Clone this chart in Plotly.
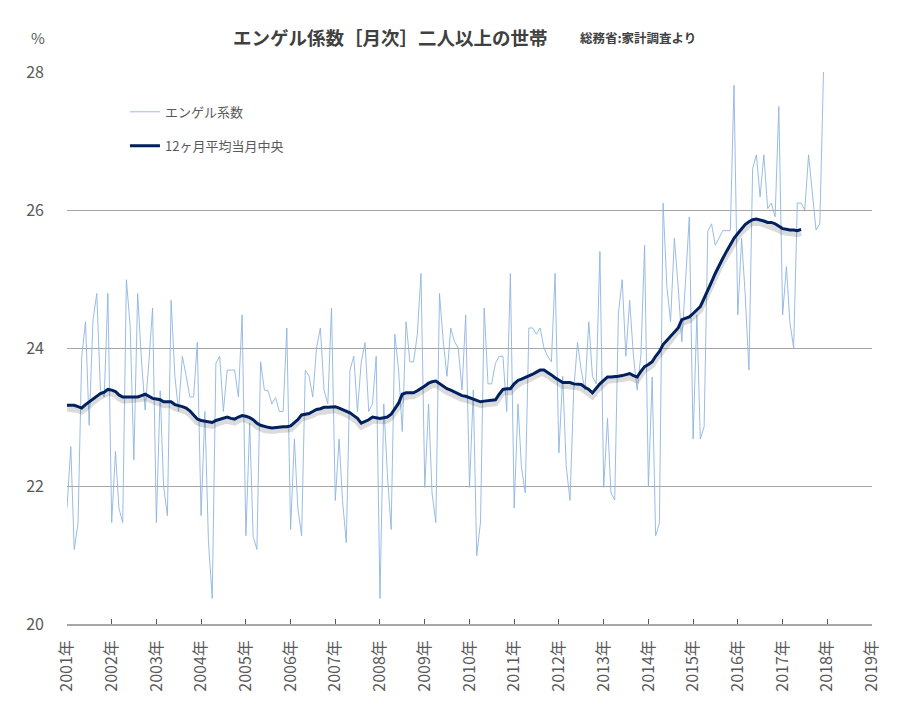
import pandas as pd
import plotly.graph_objects as go

FONT = "Noto Sans CJK JP, Noto Sans, sans-serif"

# Monthly Engel coefficient (%), Jan 2001 - Dec 2017
engel_2001 = [21.68, 22.57, 21.08, 21.46, 23.87, 24.38, 22.88, 24.40, 24.79, 23.39, 23.29, 24.79]
engel_2002 = [21.47, 22.50, 21.68, 21.47, 24.99, 24.31, 22.38, 24.79, 23.83, 23.10, 23.80, 24.58]
engel_2003 = [21.47, 23.38, 21.99, 21.57, 24.69, 23.59, 23.08, 23.88, 23.60, 23.29, 23.29, 24.08]
engel_2004 = [21.57, 23.08, 21.20, 20.37, 23.78, 23.88, 23.08, 23.68, 23.68, 23.68, 23.29, 24.48]
engel_2005 = [21.28, 22.91, 21.27, 21.08, 23.80, 23.39, 23.38, 23.19, 23.28, 23.08, 23.08, 24.29]
engel_2006 = [21.37, 22.68, 21.68, 21.28, 23.68, 23.59, 23.29, 24.00, 24.29, 23.39, 23.19, 24.58]
engel_2007 = [21.79, 22.68, 21.79, 21.18, 23.68, 23.88, 23.08, 23.80, 24.08, 23.08, 23.19, 23.88]
engel_2008 = [20.37, 23.19, 22.18, 21.37, 24.20, 23.68, 22.79, 24.38, 23.80, 23.80, 24.20, 25.08]
engel_2009 = [21.98, 23.19, 21.90, 21.47, 24.79, 24.09, 23.59, 24.29, 24.09, 24.00, 23.39, 24.48]
engel_2010 = [21.98, 23.39, 20.99, 21.48, 24.58, 23.48, 23.48, 23.78, 23.88, 23.88, 23.08, 25.08]
engel_2011 = [21.68, 23.19, 22.28, 21.90, 24.29, 24.29, 24.20, 24.29, 24.00, 23.88, 23.80, 25.08]
engel_2012 = [22.48, 23.59, 22.28, 21.79, 23.39, 24.08, 23.68, 23.39, 24.38, 23.59, 23.48, 25.40]
engel_2013 = [21.98, 22.98, 21.90, 21.80, 24.50, 24.99, 23.88, 24.69, 23.88, 23.39, 23.90, 25.49]
engel_2014 = [21.99, 23.58, 21.28, 21.46, 26.10, 24.89, 24.38, 25.59, 24.89, 24.09, 24.99, 25.90]
engel_2015 = [22.68, 24.48, 22.68, 22.86, 25.69, 25.80, 25.49, 25.60, 25.70, 25.70, 25.70, 27.81]
engel_2016 = [24.48, 25.59, 24.79, 23.68, 26.60, 26.80, 26.19, 26.80, 26.02, 26.10, 25.90, 27.50]
engel_2017 = [24.48, 25.18, 24.38, 24.00, 26.10, 26.10, 26.00, 26.80, 26.29, 25.71, 25.80, 28.00]

engel = (engel_2001 + engel_2002 + engel_2003 + engel_2004 + engel_2005 + engel_2006
         + engel_2007 + engel_2008 + engel_2009 + engel_2010 + engel_2011 + engel_2012
         + engel_2013 + engel_2014 + engel_2015 + engel_2016 + engel_2017)

# 12-month centred average, Jan 2001 - Jun 2017
ma12 = [
    23.17, 23.17, 23.17, 23.15, 23.13, 23.18, 23.22, 23.27, 23.31, 23.34, 23.36, 23.40,
    23.39, 23.37, 23.32, 23.29, 23.29, 23.29, 23.30, 23.29, 23.31, 23.33, 23.30, 23.27,
    23.26, 23.25, 23.22, 23.22, 23.22, 23.18, 23.17, 23.15, 23.13, 23.09, 23.03, 22.97,
    22.95, 22.94, 22.93, 22.92, 22.95, 22.97, 22.99, 23.00, 22.98, 22.97, 23.00, 23.02,
    23.01, 22.99, 22.96, 22.91, 22.88, 22.86, 22.85, 22.84, 22.85, 22.86, 22.86, 22.86,
    22.87, 22.92, 22.96, 23.03, 23.04, 23.05, 23.08, 23.11, 23.12, 23.14, 23.14, 23.14,
    23.15, 23.13, 23.11, 23.09, 23.06, 23.02, 22.98, 22.91, 22.93, 22.96, 23.00, 22.99,
    22.98, 22.99, 23.00, 23.04, 23.12, 23.20, 23.33, 23.35, 23.35, 23.35, 23.38, 23.41,
    23.45, 23.49, 23.51, 23.52, 23.48, 23.44, 23.41, 23.39, 23.36, 23.34, 23.31, 23.30,
    23.28, 23.26, 23.24, 23.22, 23.23, 23.24, 23.25, 23.25, 23.33, 23.40, 23.41, 23.41,
    23.48, 23.53, 23.55, 23.57, 23.59, 23.62, 23.65, 23.68, 23.68, 23.65, 23.61, 23.57,
    23.53, 23.50, 23.50, 23.50, 23.48, 23.48, 23.47, 23.43, 23.40, 23.35, 23.42, 23.48,
    23.53, 23.58, 23.58, 23.58, 23.59, 23.60, 23.61, 23.63, 23.60, 23.58, 23.66, 23.73,
    23.76, 23.80, 23.88, 23.95, 24.05, 24.11, 24.17, 24.23, 24.29, 24.41, 24.43, 24.45,
    24.50, 24.55, 24.60, 24.72, 24.85, 24.96, 25.08, 25.20, 25.30, 25.40, 25.50, 25.59,
    25.66, 25.73, 25.79, 25.83, 25.86, 25.87, 25.86, 25.84, 25.82, 25.82, 25.80, 25.76,
    25.73, 25.72, 25.71, 25.71, 25.70, 25.72,
]

months_engel = pd.date_range("2001-01-01", periods=len(engel), freq="MS")
months_ma = pd.date_range("2001-01-01", periods=len(ma12), freq="MS")

year_ticks = pd.date_range("2001-01-01", "2019-01-01", freq="YS")
year_labels = [f"{d.year}年" for d in year_ticks]
y_ticks = [20, 22, 24, 26, 28]

title_text = "エンゲル係数［月次］二人以上の世帯"
source_text = "総務省:家計調査より"
name_raw = "エンゲル系数"
name_ma = "12ヶ月平均当月中央"

fig = go.Figure()

fig.add_trace(go.Scatter(
    x=months_engel, y=engel, mode="lines", name=name_raw,
    line=dict(color="#8db4e2", width=0.9), legendgroup="a", yaxis="y",
))
# soft drop shadow of the average line (same data, on a slightly offset overlay axis)
fig.add_trace(go.Scatter(
    x=months_ma, y=ma12, mode="lines", showlegend=False, hoverinfo="skip",
    line=dict(color="rgba(0,0,0,0.14)", width=6), yaxis="y2",
))
fig.add_trace(go.Scatter(
    x=months_ma, y=ma12, mode="lines", name=name_ma,
    line=dict(color="#002060", width=3), legendgroup="b", yaxis="y3",
))

xrange = ["2001-01-01", "2019-01-01"]

fig.update_layout(
    width=900, height=720,
    paper_bgcolor="white", plot_bgcolor="white",
    margin=dict(l=67, r=28, t=72, b=96),
    font=dict(family=FONT, color="#595959"),
    showlegend=True,
    legend=dict(
        x=0.072, y=0.955, xanchor="left", yanchor="top",
        bgcolor="rgba(0,0,0,0)", font=dict(size=13, color="#595959", family=FONT),
        tracegroupgap=14, itemwidth=30,
    ),
    xaxis=dict(
        type="date", range=xrange, automargin=False,
        tickvals=list(year_ticks), ticktext=year_labels, tickangle=-90,
        tickfont=dict(size=16, color="#595959", family=FONT),
        ticks="inside", ticklen=5, tickcolor="#595959", tickwidth=1,
        showline=True, linecolor="#a6a6a6", linewidth=1.5,
        showgrid=False, zeroline=False, ticklabelstandoff=8,
    ),
    yaxis=dict(
        range=[20, 28], tickvals=y_ticks, automargin=False,
        tickfont=dict(size=16, color="#595959", family=FONT),
        showgrid=True, gridcolor="#a6a6a6", gridwidth=1,
        showline=False, zeroline=False, ticks="", ticklabelstandoff=22,
    ),
    yaxis2=dict(range=[20 + 0.05, 28 + 0.05], overlaying="y", visible=False),
    yaxis3=dict(range=[20, 28], overlaying="y", visible=False),
    annotations=[
        dict(text=f"<b>{title_text}</b>", xref="paper", yref="paper",
             x=(390 - 67) / 805, y=(624 - 37) / 552, xanchor="center", yanchor="middle",
             showarrow=False, font=dict(size=18.5, color="#404040", family=FONT)),
        dict(text=f"<b>{source_text}</b>", xref="paper", yref="paper",
             x=(578 - 67) / 805, y=(624 - 38) / 552, xanchor="left", yanchor="middle",
             showarrow=False, font=dict(size=12.5, color="#404040", family=FONT)),
        dict(text="%", xref="paper", yref="paper",
             x=(38 - 67) / 805, y=(624 - 38) / 552, xanchor="center", yanchor="middle",
             showarrow=False, font=dict(size=15, color="#595959", family=FONT)),
    ],
)

fig.write_html("out.html", config={"displayModeBar": False},
               post_script="document.body.style.margin='0';")
